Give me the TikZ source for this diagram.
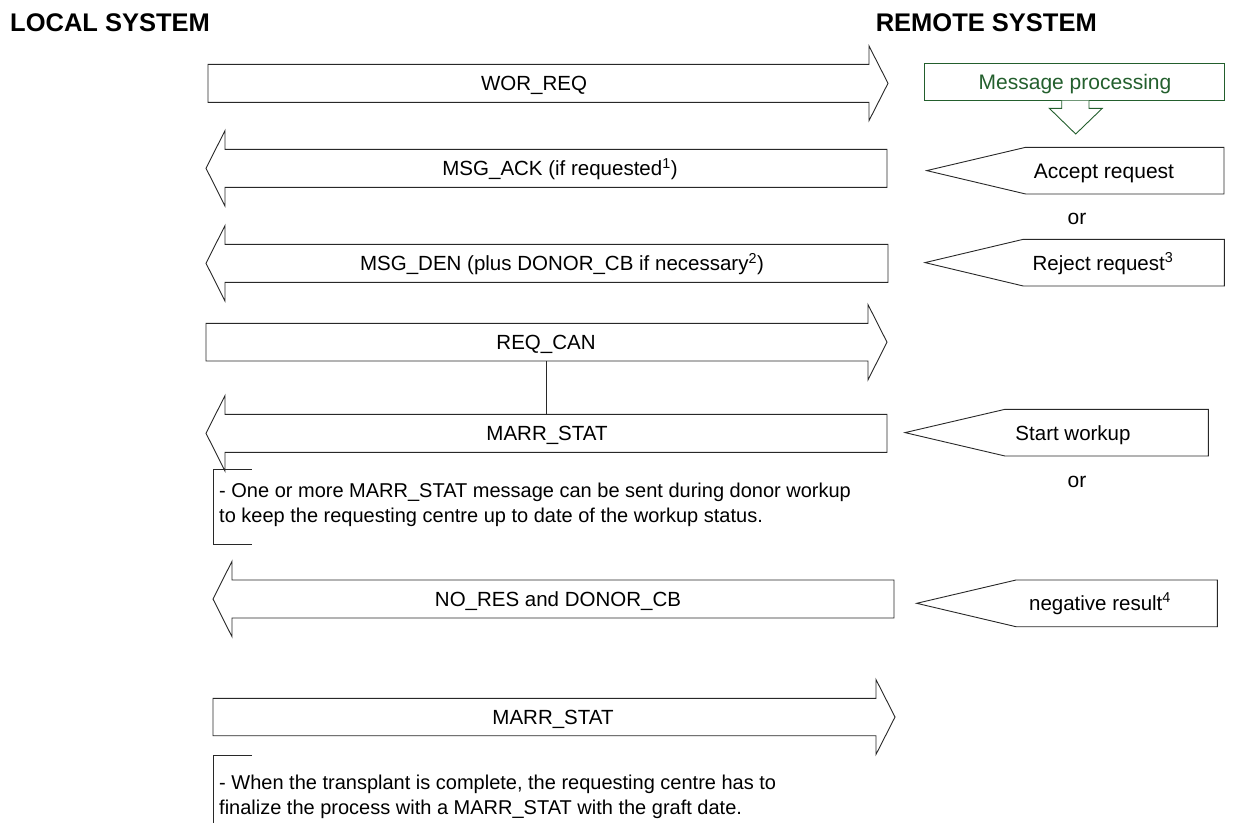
\documentclass[tikz,border=0pt]{standalone}
\usepackage{fontspec}
\setmainfont{Liberation Sans}
\definecolor{procgreen}{RGB}{35,95,45}
\definecolor{linegray}{RGB}{40,40,40}
\begin{document}
\begin{tikzpicture}[x=1pt,y=-1pt,
  blk/.style={draw=linegray, line width=0.9pt, fill=white, line join=miter},
  lbl/.style={font=\fontsize{20.5}{24}\selectfont, inner sep=0pt, anchor=base},
  rlbl/.style={font=\fontsize{21}{24}\selectfont, inner sep=0pt, anchor=base},
  heading/.style={font=\bfseries\fontsize{25.5}{28}\selectfont, inner sep=0pt},
  notetext/.style={font=\fontsize{20}{25}\selectfont, align=left, anchor=west, inner sep=0pt},
  bracket/.style={draw=linegray, line width=0.9pt},
  link/.style={draw=linegray, line width=0.9pt}]
\useasboundingbox (0,0) rectangle (1233,823);

% headings
\node[heading, anchor=base west] (local) at (10,31) {LOCAL SYSTEM};
\node[heading, anchor=base east] (remote) at (1097,31) {REMOTE SYSTEM};

% ---- message arrows between the two systems ----
% WOR_REQ (to remote)
\draw[blk] (208,64.3) -- (869,64.3) -- (869,46) -- (888,83.3) -- (869,120.6) -- (869,102.3) -- (208,102.3) -- cycle;
\node[lbl] (worreq) at (534,90.8) {WOR\_REQ};

% MSG_ACK (to local)
\draw[blk] (887,149.3) -- (225,149.3) -- (225,130.6) -- (206,168.3) -- (225,206) -- (225,187.3) -- (887,187.3) -- cycle;
\node[lbl] (msgack) at (560,175.8) {MSG\_ACK (if requested\textsuperscript{1})};

% MSG_DEN (to local)
\draw[blk] (888,244.3) -- (225,244.3) -- (225,225.6) -- (206,263.3) -- (225,301) -- (225,282.3) -- (888,282.3) -- cycle;
\node[lbl] (msgden) at (562,270.8) {MSG\_DEN (plus DONOR\_CB if necessary\textsuperscript{2})};

% REQ_CAN (to remote)
\draw[blk] (206,323.3) -- (868,323.3) -- (868,304.6) -- (887,342.2) -- (868,379.8) -- (868,361) -- (206,361) -- cycle;
\node[lbl] (reqcan) at (546,349.7) {REQ\_CAN};

% MARR_STAT (to local)
\draw[blk] (887,414.3) -- (225,414.3) -- (225,395.6) -- (206,433.3) -- (225,471) -- (225,452.3) -- (887,452.3) -- cycle;
\node[lbl] (marrstatA) at (547,440.8) {MARR\_STAT};

% link between REQ_CAN and MARR_STAT
\coordinate (reqcanfoot) at (546.7,361);
\coordinate (marrstatAtop) at (546.7,414.3);
\draw[link] (reqcanfoot) -- (marrstatAtop);

% NO_RES and DONOR_CB (to local)
\draw[blk] (894,580) -- (232,580) -- (232,561.3) -- (213,599) -- (232,636.7) -- (232,618) -- (894,618) -- cycle;
\node[lbl] (nores) at (558,606.5) {NO\_RES and DONOR\_CB};

% final MARR_STAT (to remote)
\draw[blk] (213,698.3) -- (876,698.3) -- (876,679.6) -- (895,717) -- (876,754.4) -- (876,735.7) -- (213,735.7) -- cycle;
\node[lbl] (marrstatB) at (553,724.5) {MARR\_STAT};

% ---- notes ----
\draw[bracket] (251.7,469) -- (213.3,469) -- (213.3,544) -- (251.7,544);
\node[notetext] (noteA) at (219,505) {- One or more MARR\_STAT message can be sent during donor workup\\to keep the requesting centre up to date of the workup status.};

\draw[bracket] (252,755) -- (213.3,755) -- (213.3,823);
\node[notetext] (noteB) at (219,797) {- When the transplant is complete, the requesting centre has to\\finalize the process with a MARR\_STAT with the graft date.};

% ---- remote side ----
\draw[draw=procgreen, line width=0.9pt] (924.3,63.3) rectangle (1224,100.7);
\node[rlbl, text=procgreen] (proc) at (1075,89.5) {Message processing};
\draw[draw=procgreen, line width=0.9pt, fill=white]
  (1061.7,100.7) -- (1061.7,108.3) -- (1049.3,108.3) -- (1075.7,134) -- (1102.3,108.3) -- (1089,108.3) -- (1089,100.7);

% Accept request
\draw[blk] (926.7,170.6) -- (1025.7,147.3) -- (1224,147.3) -- (1224,194) -- (1025.7,194) -- cycle;
\node[rlbl] (accept) at (1104,178) {Accept request};

\node[rlbl] (orA) at (1077,224) {or};

% Reject request
\draw[blk] (925,262.6) -- (1023.3,239.3) -- (1224.3,239.3) -- (1224.3,286) -- (1023.3,286) -- cycle;
\node[lbl] (reject) at (1103,270) {Reject request\textsuperscript{3}};

% Start workup
\draw[blk] (905,432.6) -- (1005,409.3) -- (1208.3,409.3) -- (1208.3,456) -- (1005,456) -- cycle;
\node[lbl] (startwk) at (1073,440) {Start workup};

\node[rlbl] (orB) at (1077,487.5) {or};

% negative result
\draw[blk] (916.7,603.3) -- (1016,580) -- (1217.3,580) -- (1217.3,626.7) -- (1016,626.7) -- cycle;
\node[lbl] (negres) at (1100,610.5) {negative result\textsuperscript{4}};
\end{tikzpicture}
\end{document}
